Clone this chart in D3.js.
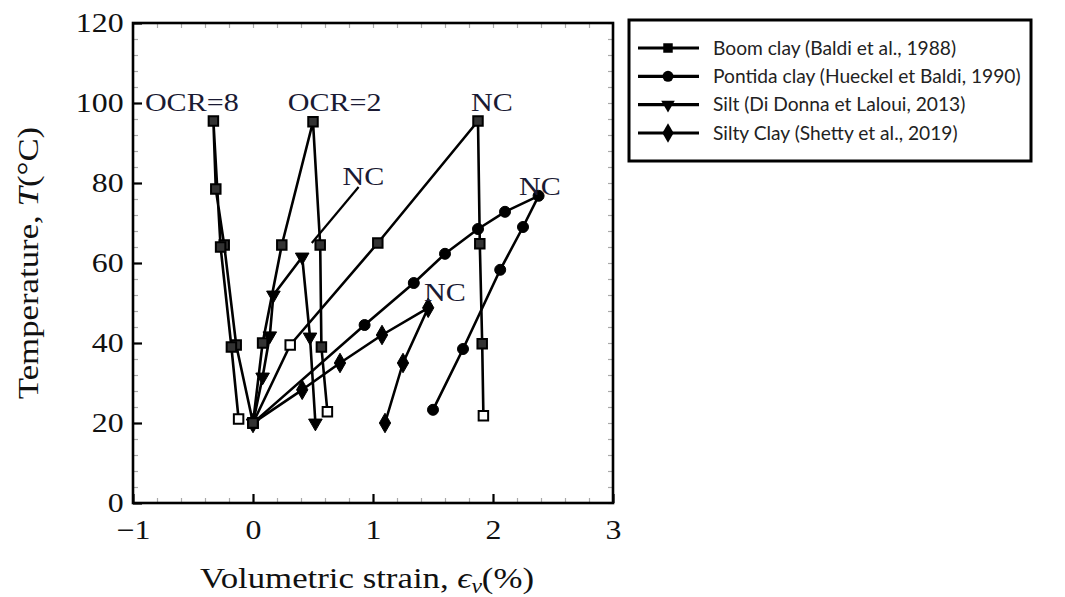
<!DOCTYPE html>
<html>
<head>
<meta charset="utf-8">
<script src="https://cdn.jsdelivr.net/npm/d3@7"></script>
<style>
  body { margin: 0; background: #fff; }
  svg { display: block; }
</style>
</head>
<body>
<svg id="chart" width="1065" height="597"></svg>
<script>
// ---------------- data ----------------
const xTicks = [-1, 0, 1, 2, 3];
const yTicks = [0, 20, 40, 60, 80, 100, 120];
const xTickLabels = ["\u22121", "0", "1", "2", "3"];
const yTickLabels = ["0", "20", "40", "60", "80", "100", "120"];

// Boom clay (Baldi et al., 1988) — three OCR paths
const boom8Strain = [0, -0.14, -0.24, -0.31, -0.33, -0.27, -0.18, -0.12];
const boom8Temp   = [20, 39.5, 64.5, 78.5, 95.5, 64, 39, 21];
const boom2Strain = [0, 0.08, 0.24, 0.50, 0.56, 0.57, 0.62];
const boom2Temp   = [20, 40, 64.5, 95.3, 64.5, 39, 22.8];
const boomNCStrain = [0, 0.31, 1.04, 1.875, 1.89, 1.91, 1.92];
const boomNCTemp   = [20, 39.5, 65, 95.5, 64.8, 39.8, 21.8];
const boomHollowIdx = { b8: [7], b2: [6], bNC: [1, 6] };

// Pontida clay (Hueckel et Baldi, 1990)
const pontStrain = [0, 0.93, 1.34, 1.60, 1.875, 2.10, 2.38, 2.25, 2.06, 1.75, 1.50];
const pontTemp   = [20, 44.5, 55, 62.3, 68.5, 72.8, 76.8, 69, 58.3, 38.5, 23.3];

// Silt (Di Donna et Laloui, 2013)
const siltStrain = [0, 0.08, 0.14, 0.17, 0.41, 0.475, 0.52];
const siltTemp   = [20, 31.5, 41.8, 52, 61.5, 41.5, 20];
const siltLeaderStrain = [0.49, 0.88];
const siltLeaderTemp   = [65, 79];

// Silty Clay (Shetty et al., 2019)
const sclayStrain = [0, 0.41, 0.725, 1.075, 1.46, 1.25, 1.10];
const sclayTemp   = [20, 28.3, 35, 42, 48.8, 35, 20];

const legendLabels = [
  "Boom clay (Baldi et al., 1988)",
  "Pontida clay (Hueckel et Baldi, 1990)",
  "Silt (Di Donna et Laloui, 2013)",
  "Silty Clay (Shetty et al., 2019)"
];
const legendShapes = ["square", "circle", "triangle", "diamond"];

const annotations = [
  { text: "OCR=8", x: -0.51, T: 100 },
  { text: "OCR=2", x: 0.68, T: 100 },
  { text: "NC", x: 1.99, T: 100 },
  { text: "NC", x: 0.92, T: 81.5 },
  { text: "NC", x: 2.39, T: 79 },
  { text: "NC", x: 1.6, T: 52.5 }
];

// ---------------- drawing ----------------
const svg = d3.select("#chart");
const serif = "'Liberation Serif', 'DejaVu Serif', serif";
const SX = 1.18; // horizontal stretch of the original figure text

const x = d3.scaleLinear().domain([-1, 3]).range([133, 613]);
const y = d3.scaleLinear().domain([0, 120]).range([503, 23]);

const minorX = d3.range(-1, 3.0001, 0.2).map(v => +v.toFixed(2));
const minorY = d3.range(0, 120.001, 4);

// minor ticks (gray) on all four sides
function minorAxis(axis, transform) {
  const g = svg.append("g").attr("transform", transform).call(axis);
  g.select(".domain").remove();
  g.selectAll("text").remove();
  g.selectAll("line").attr("stroke", "#aaa").attr("stroke-width", 1.2);
}
minorAxis(d3.axisBottom(x).tickValues(minorX).tickSize(-5), `translate(0,${y(0)})`);
minorAxis(d3.axisTop(x).tickValues(minorX).tickSize(-5), `translate(0,${y(120)})`);
minorAxis(d3.axisLeft(y).tickValues(minorY).tickSize(-5), `translate(${x(-1)},0)`);
minorAxis(d3.axisRight(y).tickValues(minorY).tickSize(-5), `translate(${x(3)},0)`);

// major axes
const gx = svg.append("g").attr("transform", `translate(0,${y(0)})`)
  .call(d3.axisBottom(x).tickValues(xTicks).tickSize(-9).tickPadding(12)
        .tickFormat((d, i) => xTickLabels[i]));
const gy = svg.append("g").attr("transform", `translate(${x(-1)},0)`)
  .call(d3.axisLeft(y).tickValues(yTicks).tickSize(-9).tickPadding(8)
        .tickFormat((d, i) => yTickLabels[i]));
[gx, gy].forEach(g => {
  g.select(".domain").remove();
  g.selectAll("line").attr("stroke", "#000").attr("stroke-width", 2.2);
  g.selectAll("text").attr("font-family", serif).attr("font-size", 27)
    .attr("fill", "#111").attr("transform", `scale(${SX},1)`);
});
gx.selectAll("text").attr("dy", "0.9em");
gy.selectAll("text").attr("dy", "0.32em");

// frame
svg.append("rect").attr("x", x(-1)).attr("y", y(120))
  .attr("width", x(3) - x(-1)).attr("height", y(0) - y(120))
  .attr("fill", "none").attr("stroke", "#000").attr("stroke-width", 2.6);

// axis titles
const xt = svg.append("text").attr("font-family", serif).attr("font-size", 29.5)
  .attr("fill", "#111").attr("text-anchor", "middle")
  .attr("transform", `translate(${(x(-1) + x(3)) / 2 - 6},588) scale(${SX},1)`);
xt.append("tspan").text("Volumetric strain, ");
xt.append("tspan").attr("font-style", "italic").text("\u03f5");
xt.append("tspan").attr("font-style", "italic").attr("font-size", 20).attr("dy", 5).text("v");
xt.append("tspan").attr("dy", -5).text("(%)");

const yt = svg.append("text").attr("font-family", serif).attr("font-size", 29.5)
  .attr("fill", "#111").attr("text-anchor", "middle")
  .attr("transform", `translate(38,${(y(0) + y(120)) / 2}) rotate(-90) scale(${SX},1)`);
yt.append("tspan").text("Temperature, ");
yt.append("tspan").attr("font-style", "italic").text("T");
yt.append("tspan").text("(\u00b0C)");

// helpers
const line = d3.line().x(d => x(d[0])).y(d => y(d[1]));
const zip = (a, b) => a.map((v, i) => [v, b[i]]);
const sym = {
  square: d3.symbol().type(d3.symbolSquare).size(90),
  circle: d3.symbol().type(d3.symbolCircle).size(95),
  triangle: d3.symbol().type(d3.symbolTriangle).size(80),
  diamond: d3.symbol().type(d3.symbolDiamond).size(110)
};

function drawSeries(pts, shape, hollow) {
  svg.append("path").datum(pts).attr("d", line)
    .attr("fill", "none").attr("stroke", "#000").attr("stroke-width", 2.6)
    .attr("stroke-linejoin", "round");
  svg.append("g").selectAll("path").data(pts).join("path")
    .attr("d", sym[shape])
    .attr("transform", d => `translate(${x(d[0])},${y(d[1])})` + (shape === "triangle" ? " rotate(180)" : ""))
    .attr("fill", (d, i) => hollow && hollow.includes(i) ? "#fff" : (shape === "square" ? "#333" : "#000"))
    .attr("stroke", "#000").attr("stroke-width", shape === "square" ? 2 : 1);
}

// leader line for silt NC label
svg.append("path").datum(zip(siltLeaderStrain, siltLeaderTemp)).attr("d", line)
  .attr("fill", "none").attr("stroke", "#000").attr("stroke-width", 2.2);

drawSeries(zip(sclayStrain, sclayTemp), "diamond");
drawSeries(zip(pontStrain, pontTemp), "circle");
drawSeries(zip(siltStrain, siltTemp), "triangle");
drawSeries(zip(boom8Strain, boom8Temp), "square", boomHollowIdx.b8);
drawSeries(zip(boom2Strain, boom2Temp), "square", boomHollowIdx.b2);
drawSeries(zip(boomNCStrain, boomNCTemp), "square", boomHollowIdx.bNC);

// annotations
annotations.forEach(a => {
  svg.append("text").attr("font-family", serif).attr("font-size", 25.5)
    .attr("fill", "#1a1a33").attr("text-anchor", "middle")
    .attr("transform", `translate(${x(a.x)},${y(a.T) + 8}) scale(${SX},1)`)
    .text(a.text);
});

// legend
const lg = svg.append("g");
lg.append("rect").attr("x", 629).attr("y", 20).attr("width", 402).attr("height", 141)
  .attr("fill", "#fff").attr("stroke", "#000").attr("stroke-width", 3);
const rowY = d3.scalePoint().domain(legendLabels).range([48, 133]);
legendLabels.forEach((lab, i) => {
  const yy = rowY(lab);
  lg.append("line").attr("x1", 638).attr("x2", 699).attr("y1", yy).attr("y2", yy)
    .attr("stroke", "#000").attr("stroke-width", 3.2);
  lg.append("path").attr("d", sym[legendShapes[i]])
    .attr("transform", `translate(668,${yy})` + (legendShapes[i] === "triangle" ? " rotate(180)" : ""))
    .attr("fill", "#000");
  lg.append("text").attr("x", 713).attr("y", yy).attr("dy", "0.35em")
    .attr("font-family", "Lato, 'Open Sans', sans-serif").attr("font-size", 19.2)
    .attr("fill", "#222").text(lab);
});
</script>
</body>
</html>
